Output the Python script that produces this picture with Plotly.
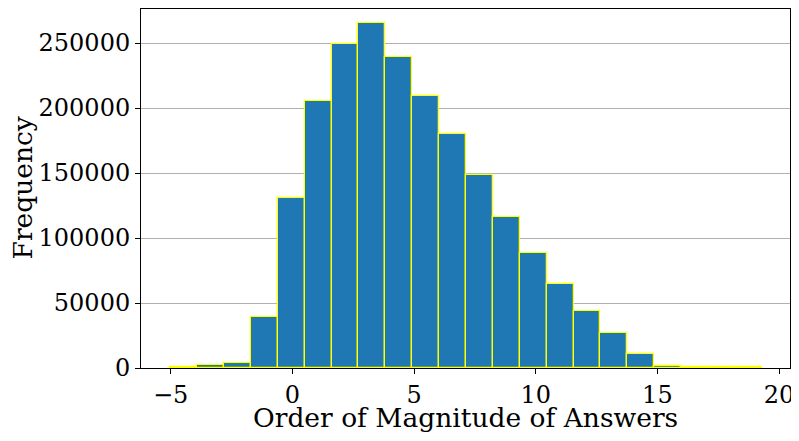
import numpy as np
import plotly.graph_objects as go

# histogram: bin edges and counts per bin
bin_edges = [-5.02, -3.915, -2.81, -1.705, -0.60, 0.505, 1.61, 2.715, 3.82,
             4.925, 6.03, 7.135, 8.24, 9.345, 10.45, 11.555, 12.66, 13.765,
             14.87, 15.975, 17.08, 18.185, 19.29]
counts = [700, 2200, 4000, 39500, 130800, 205200, 249300, 265600, 239500,
          209500, 180200, 148500, 116200, 88700, 64600, 43800, 26900, 10800,
          1800, 1000, 900, 400]
y_ticks = [0, 50000, 100000, 150000, 200000, 250000]
x_ticks = [-5, 0, 5, 10, 15, 20]

edges = np.array(bin_edges)
centers = (edges[:-1] + edges[1:]) / 2
widths = np.diff(edges)

FONT = "DejaVu Serif"

fig = go.Figure()
fig.add_trace(go.Bar(
    x=centers, y=counts, width=widths,
    marker=dict(color="#1f77b4", line=dict(color="yellow", width=1.3)),
    showlegend=False,
))

# the page body adds an 8px offset and caps the width, so size the figure to fit
fig.update_layout(
    width=783, height=425,
    margin=dict(l=133, r=1, t=1, b=65),
    paper_bgcolor="white", plot_bgcolor="white",
    font=dict(family=FONT, color="black", size=24),
    bargap=0,
)
fig.update_xaxes(
    range=[-6.22, 20.45], automargin=False,
    tickvals=x_ticks, ticktext=["\u22125", "0", "5", "10", "15", "20"],
    ticklabeloverflow="allow",
    ticks="outside", ticklen=5, tickcolor="black",
    showline=True, linecolor="black", linewidth=1, mirror=True,
    showgrid=False, zeroline=False,
)
fig.update_yaxes(
    range=[0, 276200], automargin=False,
    tickvals=y_ticks, tickformat="d",
    ticks="outside", ticklen=5, tickcolor="black",
    showline=True, linecolor="black", linewidth=1, mirror=True,
    showgrid=True, gridcolor="#b0b0b0", gridwidth=1,
    zeroline=False,
)

# axis titles placed as annotations to match the reference spacing
fig.add_annotation(text="Order of Magnitude of Answers", xref="paper", yref="paper",
                   x=0.5, y=0, yanchor="middle", yshift=-49, showarrow=False,
                   font=dict(size=26.5))
fig.add_annotation(text="Frequency", xref="paper", yref="paper",
                   x=0, y=0.5, xanchor="center", xshift=-119, textangle=-90,
                   showarrow=False, font=dict(size=26.5))

fig.write_html("out.html")
